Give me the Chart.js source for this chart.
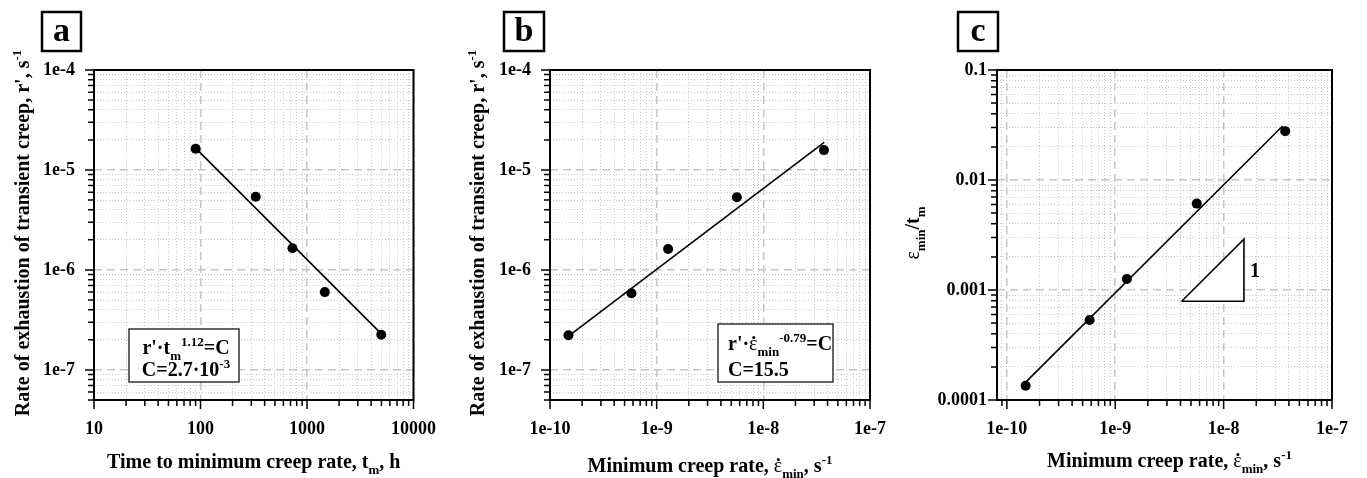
<!DOCTYPE html>
<html>
<head>
<meta charset="utf-8">
<script src="https://cdn.jsdelivr.net/npm/chart.js@4.4.1/dist/chart.umd.min.js"></script>
<style>
html,body{margin:0;padding:0;background:#fff}
#wrap{position:relative;width:1367px;height:478px;overflow:hidden;background:#fff}
canvas{position:absolute;top:0}
</style>
</head>
<body>
<div id="wrap">
  <canvas id="pa" width="455" height="478" style="left:0"></canvas>
  <canvas id="pb" width="450" height="478" style="left:455px"></canvas>
  <canvas id="pc" width="462" height="478" style="left:905px"></canvas>
</div>
<script>
// values
const tm     = [90, 330, 730, 1470, 4980];                 // h
const rA     = [1.63e-5, 5.4e-6, 1.65e-6, 6.0e-7, 2.25e-7]; // s^-1
const fitAx  = [93, 5300];
const fitAy  = [1.6e-5, 2.15e-7];

const epsMin = [1.49e-10, 5.8e-10, 1.28e-9, 5.65e-9, 3.7e-8];
const rB     = [2.22e-7, 5.85e-7, 1.62e-6, 5.33e-6, 1.58e-5];
const fitBx  = [1.49e-10, 3.72e-8];
const fitBy  = [2.18e-7, 1.89e-5];

const epsTm  = [1.35e-4, 5.33e-4, 1.26e-3, 6.1e-3, 0.0278];
const fitCx  = [1.51e-10, 3.5e-8];
const fitCy  = [1.47e-4, 0.031];
const triX   = [4.1e-9, 1.54e-8, 1.54e-8, 4.1e-9];
const triY   = [7.9e-4, 7.9e-4, 2.9e-3, 7.9e-4];

const rTicks   = [1e-4, 1e-5, 1e-6, 1e-7],   rLabels   = ['1e-4','1e-5','1e-6','1e-7'];
const tmTicks  = [10, 100, 1000, 10000],     tmLabels  = ['10','100','1000','10000'];
const epsTicks = [1e-10, 1e-9, 1e-8, 1e-7],  epsLabels = ['1e-10','1e-9','1e-8','1e-7'];
const cTicks   = [0.1, 0.01, 0.001, 0.0001], cLabels   = ['0.1','0.01','0.001','0.0001'];

const FONT = "'Liberation Serif','Times New Roman',serif";
const EPSDOT = ['ε', null, 'n', true];   // epsilon with a dot over it

const isMajor = v => Math.abs(Math.log10(v) - Math.round(Math.log10(v))) < 1e-6;
function logTicks(min, max){
  const out = [];
  for (let e = Math.floor(Math.log10(min)); e <= Math.ceil(Math.log10(max)); e++)
    for (let m = 1; m < 10; m++){
      const v = m * Math.pow(10, e);
      if (v >= min * 0.9999 && v <= max * 1.0001) out.push(v);
    }
  return out;
}
function labelFor(v, vals, labels){
  const i = vals.findIndex(t => Math.abs(Math.log10(t) - Math.log10(v)) < 1e-6);
  return i >= 0 ? labels[i] : '';
}
const pts = (xs, ys) => xs.map((x, i) => ({x, y: ys[i]}));

function logAxis(pos, min, max, vals, labels, pad, size){
  return {
    type: 'logarithmic', position: pos, min, max,
    afterBuildTicks: s => { s.ticks = logTicks(min, max).map(v => ({value: v})); },
    afterFit: s => { if (pos === 'bottom') s.height = size; else s.width = size; },
    ticks: {
      autoSkip: false, maxRotation: 0, minRotation: 0, padding: pad, color: '#000',
      font: {family: FONT, size: 18, weight: 'bold'},
      callback: v => labelFor(v, vals, labels)
    },
    grid: {
      drawTicks: false,
      color: c => c.tick && isMajor(c.tick.value) ? '#c6c6c6' : '#c8c8c8',
      lineWidth: c => c.tick && isMajor(c.tick.value) ? 1.5 : 1
    },
    border: { display: false, dash: c => c.tick && isMajor(c.tick.value) ? [8, 5] : [1, 2] }
  };
}

// text with sub/superscripts: [text, 'sub'|'sup'|null, 'n' for normal weight, dot above]
function drawRich(ctx, parts, x, y, size, align, rotate){
  ctx.save();
  ctx.translate(x, y);
  if (rotate) ctx.rotate(-Math.PI / 2);
  ctx.textBaseline = 'alphabetic'; ctx.textAlign = 'left'; ctx.fillStyle = '#000';
  const fontOf = p => `${p[2] === 'n' ? 'normal' : 'bold'} ${p[1] ? Math.round(size * 0.65) : size}px ${FONT}`;
  let w = 0;
  parts.forEach(p => { ctx.font = fontOf(p); w += ctx.measureText(p[0]).width; });
  let cx = align === 'center' ? -w / 2 : 0;
  parts.forEach(p => {
    ctx.font = fontOf(p);
    const dy = p[1] === 'sub' ? size * 0.28 : p[1] === 'sup' ? -size * 0.42 : 0;
    const pw = ctx.measureText(p[0]).width;
    ctx.fillText(p[0], cx, dy);
    if (p[3]){
      ctx.beginPath();
      ctx.arc(cx + pw * 0.55, dy - size * 0.62, size * 0.075, 0, Math.PI * 2);
      ctx.fill();
    }
    cx += pw;
  });
  ctx.restore();
}

function deco(o){
  return {
    id: 'deco',
    afterDraw(chart){
      const ctx = chart.ctx, a = chart.chartArea;
      const sx = chart.scales.x, sy = chart.scales.y;
      ctx.save();
      // ticks outward
      ctx.strokeStyle = '#000'; ctx.lineWidth = 1.5;
      ctx.beginPath();
      sx.ticks.forEach(t => {
        const p = sx.getPixelForValue(t.value), l = isMajor(t.value) ? 9 : 6;
        ctx.moveTo(p, a.bottom); ctx.lineTo(p, a.bottom + l);
      });
      sy.ticks.forEach(t => {
        const p = sy.getPixelForValue(t.value), l = isMajor(t.value) ? 9 : 6;
        ctx.moveTo(a.left, p); ctx.lineTo(a.left - l, p);
      });
      ctx.stroke();
      // frame
      ctx.lineWidth = 2;
      ctx.strokeRect(a.left, a.top, a.right - a.left, a.bottom - a.top);
      // panel letter
      const b = o.letterBox;
      ctx.lineWidth = 2.5;
      ctx.strokeRect(b[0], b[1], b[2] - b[0], b[3] - b[1]);
      ctx.fillStyle = '#000';
      ctx.font = `bold 34px ${FONT}`;
      ctx.textAlign = 'center'; ctx.textBaseline = 'alphabetic';
      ctx.fillText(o.letter, (b[0] + b[2]) / 2, 41);
      // annotation box
      if (o.note){
        const n = o.note;
        ctx.fillStyle = '#fff';
        ctx.fillRect(n.box[0], n.box[1], n.box[2] - n.box[0], n.box[3] - n.box[1]);
        ctx.strokeStyle = '#333'; ctx.lineWidth = 1.5;
        ctx.strokeRect(n.box[0], n.box[1], n.box[2] - n.box[0], n.box[3] - n.box[1]);
        n.lines.forEach(l => drawRich(ctx, l[0], n.x, l[1], 20, n.align, false));
      }
      // slope label
      if (o.slope){
        const px = sx.getPixelForValue(triX[1]) + 11;
        const py = (sy.getPixelForValue(triY[0]) + sy.getPixelForValue(triY[2])) / 2 + 7;
        drawRich(ctx, [['1']], px, py, 20, 'center', false);
      }
      ctx.restore();
      // axis titles
      drawRich(ctx, o.xTitle, (a.left + a.right) / 2 + (o.xShift || 0), o.xTitleY, 20, 'center', false);
      drawRich(ctx, o.yTitle, o.yTitleX, 233, 20, 'center', true);
    }
  };
}

function panel(id, o){
  return new Chart(document.getElementById(id), {
    type: 'scatter',
    data: { datasets: o.datasets },
    options: {
      responsive: false, animation: false, devicePixelRatio: 1,
      layout: { padding: { top: 70, right: o.padRight, bottom: 0, left: 0 } },
      plugins: { legend: { display: false }, tooltip: { enabled: false } },
      scales: { x: o.x, y: o.y }
    },
    plugins: [deco(o)]
  });
}

const dots = (xs, ys) => ({
  data: pts(xs, ys), showLine: false, pointRadius: 5, pointHoverRadius: 5,
  pointBackgroundColor: '#000', pointBorderColor: '#000', pointBorderWidth: 0
});
const fit = (xs, ys) => ({
  data: pts(xs, ys), showLine: true, pointRadius: 0, borderColor: '#000', borderWidth: 1.6, fill: false
});

panel('pa', {
  datasets: [dots(tm, rA), fit(fitAx, fitAy)],
  x: logAxis('bottom', 10, 10000, tmTicks, tmLabels, 19, 78),
  y: logAxis('left', 5e-8, 1e-4, rTicks, rLabels, 19, 94),
  padRight: 30,
  letter: 'a', letterBox: [42, 12, 81, 51],
  xTitle: [['Time to minimum creep rate, t'], ['m', 'sub'], [', h']], xTitleY: 468,
  yTitle: [["Rate of exhaustion of transient creep, r', s"], ['-1', 'sup']], yTitleX: 29,
  note: { box: [129, 329, 239, 382], x: 186, align: 'center',
    lines: [[[["r'·t"], ['m', 'sub'], ['1.12', 'sup'], ['=C']], 354],
            [[['C=2.7·10'], ['-3', 'sup']], 376]] }
});

panel('pb', {
  datasets: [dots(epsMin, rB), fit(fitBx, fitBy)],
  x: logAxis('bottom', 1e-10, 1e-7, epsTicks, epsLabels, 19, 78),
  y: logAxis('left', 5e-8, 1e-4, rTicks, rLabels, 19, 95),
  padRight: 25,
  letter: 'b', letterBox: [49, 12, 89, 51],
  xTitle: [['Minimum creep rate, '], EPSDOT, ['min', 'sub'], [', s'], ['-1', 'sup']], xTitleY: 472,
  yTitle: [["Rate of exhaustion of transient creep, r', s"], ['-1', 'sup']], yTitleX: 29,
  note: { box: [263, 324, 378, 382], x: 273, align: 'left',
    lines: [[[["r'·"], EPSDOT, ['min', 'sub'], ['-0.79', 'sup'], ['=C']], 350],
            [[['C=15.5']], 376]] }
});

panel('pc', {
  datasets: [
    dots(epsMin, epsTm),
    fit(fitCx, fitCy),
    { data: pts(triX, triY), showLine: true, pointRadius: 0, borderColor: '#000', borderWidth: 1.6,
      fill: 'shape', backgroundColor: '#fff' }
  ],
  x: logAxis('bottom', 8.11e-11, 1e-7, epsTicks, epsLabels, 19, 78),
  y: logAxis('left', 1e-4, 0.1, cTicks, cLabels, 10, 92),
  padRight: 30, xShift: 5,
  letter: 'c', letterBox: [53, 12, 93, 51],
  xTitle: [['Minimum creep rate, '], EPSDOT, ['min', 'sub'], [', s'], ['-1', 'sup']], xTitleY: 467,
  yTitle: [['ε', null, 'n'], ['min', 'sub'], ['/t'], ['m', 'sub']], yTitleX: 14,
  slope: true
});
</script>
</body>
</html>
